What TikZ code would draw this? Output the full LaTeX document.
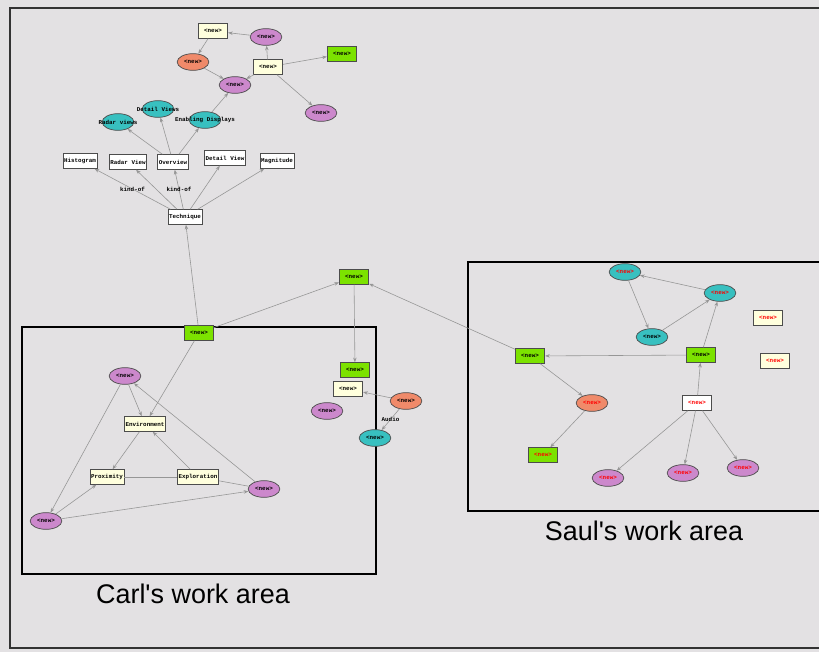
\documentclass[tikz,border=0pt]{standalone}
\usepackage{fontspec}
\setmainfont{Liberation Sans}
\setmonofont{Liberation Mono}
\definecolor{mygray}{RGB}{227,225,227}
\definecolor{myviolet}{RGB}{204,136,204}
\definecolor{mysalmon}{RGB}{240,138,106}
\definecolor{myteal}{RGB}{56,192,192}
\definecolor{mygreen}{RGB}{124,226,0}
\definecolor{mycream}{RGB}{255,255,221}
\definecolor{myedge}{RGB}{150,150,150}
\usetikzlibrary{shapes.geometric,arrows.meta}

\begin{document}
\begin{tikzpicture}[x=0.03cm,y=-0.03cm,
        every node/.style={font=\ttfamily\bfseries\fontsize{5}{5}\selectfont},
        box/.style={draw=black!70,line width=0.7pt,rectangle,minimum width=0.88cm,minimum height=0.44cm,inner sep=1pt},
        oval/.style={draw=black!70,line width=0.6pt,ellipse,minimum width=0.95cm,minimum height=0.5cm,inner sep=0pt},
        creambox/.style={box,fill=mycream},
        whitebox/.style={box,fill=white},
        greenbox/.style={box,fill=mygreen},
        violetnode/.style={oval,fill=myviolet},
        salmonnode/.style={oval,fill=mysalmon},
        tealnode/.style={oval,fill=myteal},
        edge/.style={draw=myedge,line width=0.5pt,-{Stealth[length=4pt,width=3pt]}},
        plain/.style={draw=myedge,line width=0.5pt},
        area/.style={draw=black,line width=1pt},
        caption/.style={font=\rmfamily\fontsize{23}{23}\selectfont}
        ]
        \useasboundingbox (0,0) rectangle (819,652);
        \fill[mygray] (0,0) rectangle (819,652);
        \draw[black!80,line width=1pt] (10,8) rectangle (830,648);

        % the work areas
        \draw[area] (22,327) rectangle (376,574);
        \draw[area] (468,262) rectangle (830,511);
        \node[caption] (carl) at (193,594) {Carl\textquotesingle s work area};
        \node[caption] (saul) at (644,531) {Saul\textquotesingle s work area};

        % the top cluster
        \node[creambox] (r1) at (213,31) {<new>};
        \node[violetnode] (e1) at (266,37) {<new>};
        \node[salmonnode] (e2) at (193,62) {<new>};
        \node[creambox] (r2) at (268,67) {<new>};
        \node[greenbox] (g1) at (342,54) {<new>};
        \node[violetnode] (e3) at (235,85) {<new>};
        \node[violetnode] (e4) at (321,113) {<new>};

        % the techniques
        \node[tealnode,label=center:Radar views] (radarviews) at (118,122) {};
        \node[tealnode,label=center:Detail Views] (detailviews) at (158,109) {};
        \node[tealnode,label=center:Enabling Displays] (enabling) at (205,120) {};
        \node[whitebox] (histogram) at (80,161) {Histogram};
        \node[whitebox] (radarview) at (128,162) {Radar View};
        \node[whitebox] (overview) at (173,162) {Overview};
        \node[whitebox] (detailview) at (225,158) {Detail View};
        \node[whitebox] (magnitude) at (277,161) {Magnitude};
        \node[whitebox] (technique) at (185,217) {Technique};

        % the middle
        \node[greenbox] (g3) at (354,277) {<new>};
        \node[greenbox] (g5) at (355,370) {<new>};
        \node[creambox] (r3) at (348,389) {<new>};
        \node[violetnode] (e5) at (327,411) {<new>};
        \node[salmonnode] (e6) at (406,401) {<new>};
        \node[tealnode] (e7) at (375,438) {<new>};

        % Carl's nodes
        \node[greenbox] (g2) at (199,333) {<new>};
        \node[violetnode] (v1) at (125,376) {<new>};
        \node[creambox] (environment) at (145,424) {Environment};
        \node[creambox] (proximity) at (107,477) {Proximity};
        \node[creambox] (exploration) at (198,477) {Exploration};
        \node[violetnode] (v2) at (264,489) {<new>};
        \node[violetnode] (v3) at (46,521) {<new>};

        % Saul's nodes
        \begin{scope}[every node/.append style={text=red}]
        \node[tealnode] (t1) at (625,272) {<new>};
        \node[tealnode] (t2) at (720,293) {<new>};
        \node[tealnode,text=black] (t3) at (652,337) {<new>};
        \node[creambox] (s1) at (768,318) {<new>};
        \node[creambox] (s2) at (775,361) {<new>};
        \node[greenbox,text=black] (g4) at (530,356) {<new>};
        \node[greenbox,text=black] (g6) at (701,355) {<new>};
        \node[salmonnode] (o1) at (592,403) {<new>};
        \node[whitebox] (w1) at (697,403) {<new>};
        \node[greenbox] (g7) at (543,455) {<new>};
        \node[violetnode] (p1) at (608,478) {<new>};
        \node[violetnode] (p2) at (683,473) {<new>};
        \node[violetnode] (p3) at (743,468) {<new>};
        \end{scope}

        % the edges
        \draw[edge] (e1) -- (r1);
        \draw[edge] (r1) -- (e2);
        \draw[edge] (e2) -- (e3);
        \draw[edge] (r2) -- (e1);
        \draw[edge] (r2) -- (e3);
        \draw[edge] (r2) -- (g1);
        \draw[edge] (r2) -- (e4);
        \draw[edge] (enabling) -- (e3);
        \draw[edge] (overview) -- (radarviews);
        \draw[edge] (overview) -- (detailviews);
        \draw[edge] (overview) -- (enabling);
        \draw[edge] (technique) -- node[midway] {kind-of} (histogram);
        \draw[edge] (technique) -- (radarview);
        \draw[edge] (technique) -- node[midway] {kind-of} (overview);
        \draw[edge] (technique) -- (detailview);
        \draw[edge] (technique) -- (magnitude);
        \draw[edge] (g2) -- (technique);
        \draw[edge] (g2) -- (g3);
        \draw[edge] (g4) -- (g3);
        \draw[edge] (g3) -- (g5);
        \draw[edge] (e6) -- (r3);
        \draw[edge] (e6) -- node[midway] {Audio} (e7);
        \draw[edge] (g2) -- (environment);
        \draw[edge] (v1) -- (environment);
        \draw[edge] (v1) -- (v3);
        \draw[edge] (environment) -- (proximity);
        \draw[edge] (exploration) -- (environment);
        \draw[plain] (proximity) -- (exploration);
        \draw[plain] (exploration) -- (v2);
        \draw[edge] (v2) -- (v1);
        \draw[edge] (v3) -- (proximity);
        \draw[edge] (v3) -- (v2);
        \draw[edge] (t2) -- (t1);
        \draw[edge] (t1) -- (t3);
        \draw[edge] (t3) -- (t2);
        \draw[edge] (g6) -- (t2);
        \draw[edge] (g6) -- (g4);
        \draw[edge] (g4) -- (o1);
        \draw[edge] (o1) -- (g7);
        \draw[edge] (w1) -- (g6);
        \draw[edge] (w1) -- (p1);
        \draw[edge] (w1) -- (p2);
        \draw[edge] (w1) -- (p3);
        \end{tikzpicture}
\end{document}
